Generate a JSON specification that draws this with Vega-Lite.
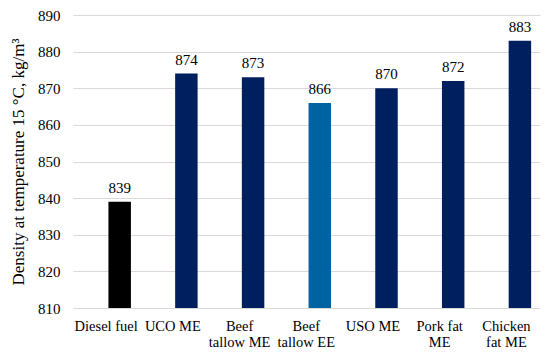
{
  "$schema": "https://vega.github.io/schema/vega-lite/v6.json",
  "width": 467,
  "height": 293,
  "autosize": {"type": "none"},
  "padding": {"left": 73, "top": 15, "right": 10, "bottom": 51},
  "background": "white",
  "config": {
    "view": {"stroke": null},
    "font": "Liberation Serif"
  },
  "data": {
    "values": [
      {"fuel": "Diesel fuel", "density": 839, "group": "diesel"},
      {"fuel": "UCO ME", "density": 874, "group": "me"},
      {"fuel": "Beef|tallow ME", "density": 873, "group": "me"},
      {"fuel": "Beef|tallow EE", "density": 866, "group": "ee"},
      {"fuel": "USO ME", "density": 870, "group": "me"},
      {"fuel": "Pork fat|ME", "density": 872, "group": "me"},
      {"fuel": "Chicken|fat ME", "density": 883, "group": "me"}
    ]
  },
  "encoding": {
    "x": {
      "field": "fuel",
      "type": "nominal",
      "sort": null,
      "scale": {"paddingInner": 0.663, "paddingOuter": 0.332, "align": 0.8},
      "axis": {
        "title": null,
        "labelAngle": 0,
        "labelExpr": "split(datum.label, '|')",
        "labelFont": "Liberation Serif",
        "labelFontSize": 14.5,
        "labelColor": "black",
        "labelPadding": 11,
        "labelLineHeight": 16.5,
        "labelOffset": -13.5,
        "ticks": false,
        "domain": false
      }
    },
    "y": {
      "field": "density",
      "type": "quantitative",
      "scale": {"domain": [810, 890], "zero": false, "nice": false},
      "axis": {
        "values": [810, 820, 830, 840, 850, 860, 870, 880, 890],
        "title": "Density at temperature 15 °C, kg/m³",
        "titleFont": "Liberation Serif",
        "titleFontSize": 17,
        "titleFontWeight": "normal",
        "titleColor": "black",
        "titlePadding": 10,
        "labelFont": "Liberation Serif",
        "labelFontSize": 15,
        "labelColor": "black",
        "labelPadding": 13,
        "ticks": false,
        "domain": false,
        "grid": true,
        "gridColor": "#d9d9d9",
        "gridWidth": 1
      }
    }
  },
  "layer": [
    {
      "mark": {"type": "bar", "clip": true},
      "encoding": {
        "y2": {"datum": 810},
        "color": {
          "field": "group",
          "type": "nominal",
          "scale": {"domain": ["diesel", "me", "ee"], "range": ["#000000", "#001F5F", "#0063A1"]},
          "legend": null
        }
      }
    },
    {
      "mark": {"type": "text", "dy": -9, "baseline": "alphabetic", "font": "Liberation Serif", "fontSize": 15, "color": "black"},
      "encoding": {
        "text": {"field": "density", "type": "quantitative"}
      }
    }
  ]
}
